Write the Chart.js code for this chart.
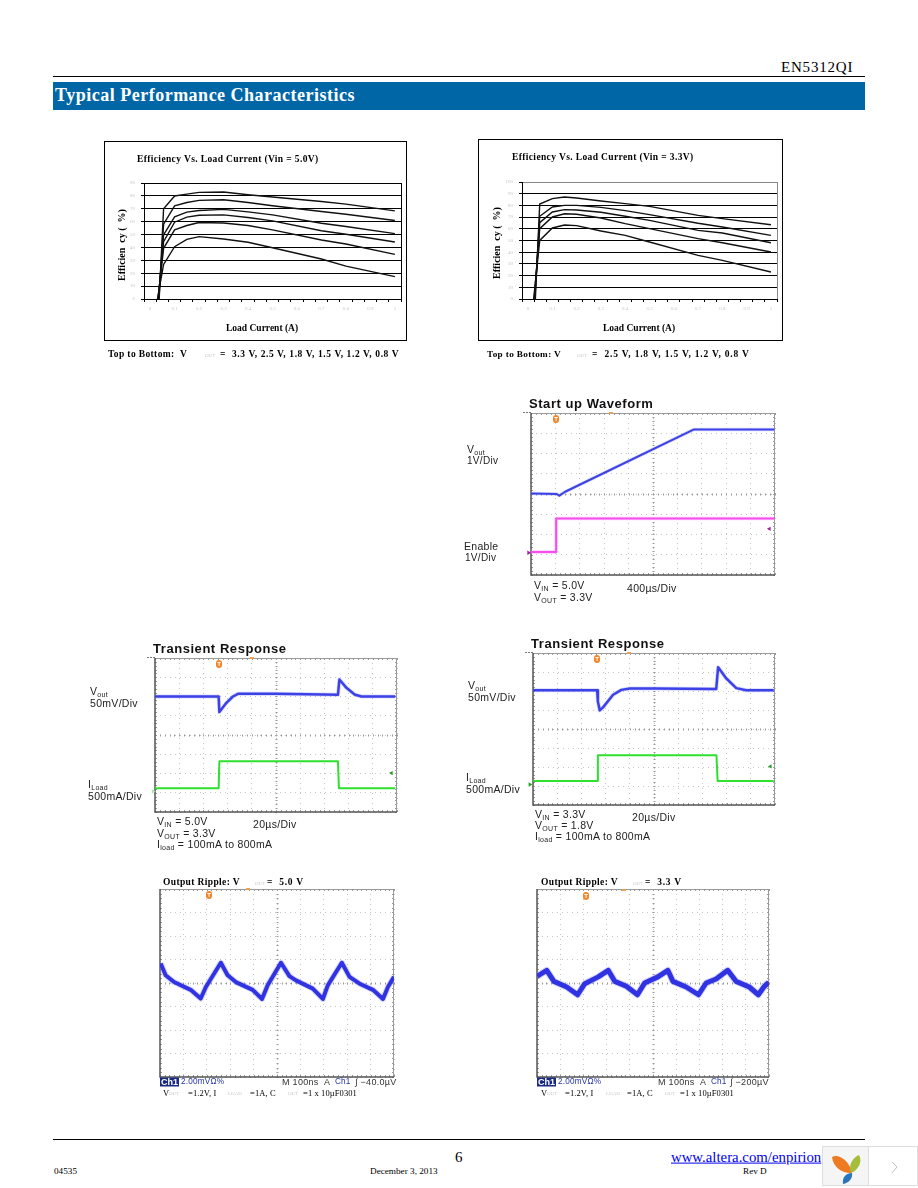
<!DOCTYPE html>
<html lang="en">
<head>
<meta charset="UTF-8" />
<title>EN5312QI Typical Performance Characteristics</title>
<script src="https://cdn.jsdelivr.net/npm/chart.js"></script>
<style>
  html, body { margin: 0; padding: 0; background: #fff; }
  body { position: relative; width: 918px; height: 1188px; overflow: hidden; font-family: "Liberation Serif", serif; color: #000; }
  canvas { position: absolute; }
  .t { position: absolute; white-space: nowrap; line-height: 1; transform: translateY(-50%); }
  .rule { position: absolute; left: 53px; width: 812px; height: 1px; background: #000; }
  .banner { position: absolute; left: 53px; top: 82px; width: 812px; height: 28px; background: #0066a6; }
  .eff { font-weight: bold; font-size: 9.5px; letter-spacing: .37px; }
  .ax { font-weight: bold; font-size: 9.5px; }
  .faint { color: #c9c9c9; font-size: 5px; font-weight: normal; letter-spacing: 0; }
  .s { font-family: "Liberation Sans", sans-serif; font-size: 10.5px; letter-spacing: .3px; color: #222; filter: blur(.3px); }
  .s sub { font-size: 7px; vertical-align: -2px; line-height: 0; }
  .h { font-family: "Liberation Sans", sans-serif; font-weight: bold; font-size: 13px; letter-spacing: .55px; color: #111; filter: blur(.25px); }
  .trig { position: absolute; width: 6px; height: 8px; margin-left: -3px; margin-top: -4px; border-radius: 3px; background: #f0852a; color: #fff; font: bold 6px/8px "Liberation Sans", sans-serif; text-align: center; }
  .stub { position: absolute; width: 4px; height: 2px; background: #f0a050; }
  .st { font-family: "Liberation Sans", sans-serif; font-size: 9px; color: #333; letter-spacing: .3px; filter: blur(.2px); }
  .st.b { color: #2233aa; font-size: 8.2px; letter-spacing: .2px; }
  .cap { font-size: 8.5px; letter-spacing: .1px; }
  .foot { font-size: 9.2px; }
</style>
</head>
<body>

<div class="t" style="left:781px;top:67px;font-size:15px;letter-spacing:.8px">EN5312QI</div>
<div class="rule" style="top:76px"></div>
<div class="banner"></div>
<div class="t" style="left:55px;top:95px;font-size:18px;font-weight:bold;color:#fff;letter-spacing:.5px">Typical Performance Characteristics</div>

<!-- efficiency plots -->
<canvas id="eff50"></canvas>
<canvas id="eff33"></canvas>
<div class="t eff" style="left:137px;top:160px">Efficiency Vs. Load Current (Vin = 5.0V)</div>
<div class="t eff" style="left:512px;top:158px">Efficiency Vs. Load Current (Vin = 3.3V)</div>
<div class="t ax" style="left:122px;top:245px;font-size:10px;transform:translate(-50%,-50%) rotate(-90deg)">Efficien&nbsp; cy (&nbsp; %)</div>
<div class="t ax" style="left:497px;top:243px;font-size:10px;transform:translate(-50%,-50%) rotate(-90deg)">Efficien&nbsp; cy (&nbsp; %)</div>
<div class="t ax" style="left:226px;top:329px">Load Current (A)</div>
<div class="t ax" style="left:603px;top:329px">Load Current (A)</div>
<div class="t eff" style="left:108px;top:355px">Top to Bottom:&nbsp; V</div>
<div class="t faint" style="left:205px;top:355px">OUT</div>
<div class="t eff" style="left:220px;top:355px;letter-spacing:.6px">=&nbsp; 3.3 V, 2.5 V, 1.8 V, 1.5 V, 1.2 V, 0.8 V</div>
<div class="t eff" style="left:487px;top:355px;font-size:9.2px">Top to Bottom: V</div>
<div class="t faint" style="left:577px;top:355px">OUT</div>
<div class="t eff" style="left:592px;top:355px;letter-spacing:.8px">=&nbsp; 2.5 V, 1.8 V, 1.5 V, 1.2 V, 0.8 V</div>

<!-- start up -->
<canvas id="startup"></canvas>
<div class="t h" style="left:529px;top:403px">Start up Waveform</div>
<div class="t s" style="left:467px;top:449px">V<sub>out</sub></div>
<div class="t s" style="left:467px;top:461px;font-size:10px">1V/Div</div>
<div class="t s" style="left:464px;top:546px">Enable</div>
<div class="t s" style="left:465px;top:558px;font-size:10px">1V/Div</div>
<div class="t s" style="left:534px;top:585px">V<sub>IN</sub> = 5.0V</div>
<div class="t s" style="left:534px;top:597px">V<sub>OUT</sub> = 3.3V</div>
<div class="t s" style="left:627px;top:588px">400&micro;s/Div</div>
<div class="trig" style="left:556px;top:419px">T</div>
<div class="stub" style="left:609px;top:412px"></div>

<!-- transient left -->
<canvas id="transL"></canvas>
<div class="t h" style="left:153px;top:648px">Transient Response</div>
<div class="t s" style="left:90px;top:691px">V<sub>out</sub></div>
<div class="t s" style="left:90px;top:703px">50mV/Div</div>
<div class="t s" style="left:88px;top:784px">I<sub>Load</sub></div>
<div class="t s" style="left:88px;top:796px">500mA/Div</div>
<div class="t s" style="left:157px;top:821px">V<sub>IN</sub> = 5.0V</div>
<div class="t s" style="left:157px;top:833px">V<sub>OUT</sub> = 3.3V</div>
<div class="t s" style="left:157px;top:844px">I<sub>load</sub> = 100mA to 800mA</div>
<div class="t s" style="left:253px;top:824px">20&micro;s/Div</div>
<div class="trig" style="left:219px;top:664px">T</div>
<div class="stub" style="left:250px;top:657px"></div>

<!-- transient right -->
<canvas id="transR"></canvas>
<div class="t h" style="left:531px;top:643px">Transient Response</div>
<div class="t s" style="left:468px;top:685px">V<sub>out</sub></div>
<div class="t s" style="left:468px;top:697px">50mV/Div</div>
<div class="t s" style="left:466px;top:777px">I<sub>Load</sub></div>
<div class="t s" style="left:466px;top:789px">500mA/Div</div>
<div class="t s" style="left:535px;top:814px">V<sub>IN</sub> = 3.3V</div>
<div class="t s" style="left:535px;top:825px">V<sub>OUT</sub> = 1.8V</div>
<div class="t s" style="left:535px;top:836px">I<sub>load</sub> = 100mA to 800mA</div>
<div class="t s" style="left:632px;top:817px">20&micro;s/Div</div>
<div class="trig" style="left:597px;top:659px">T</div>
<div class="stub" style="left:627px;top:652px"></div>

<!-- output ripple left -->
<canvas id="rippleL"></canvas>
<div class="t eff" style="left:163px;top:883px">Output Ripple: V</div>
<div class="t faint" style="left:255px;top:883px">OUT</div>
<div class="t eff" style="left:267px;top:883px;letter-spacing:.7px">=&nbsp; 5.0 V</div>
<div class="trig" style="left:209px;top:895px">T</div>
<div class="stub" style="left:246px;top:888px"></div>
<div class="t" style="left:160px;top:1082px;background:#1a2a80;color:#fff;font:bold 9px/9px 'Liberation Sans',sans-serif;padding:0 1px">Ch1</div>
<div class="t st b" style="left:181px;top:1082px">2.00mV&Omega;%</div>
<div class="t st" style="left:282px;top:1082px">M 100ns</div>
<div class="t st" style="left:324px;top:1082px">A</div>
<div class="t st b" style="left:335px;top:1082px">Ch1</div>
<div class="t st" style="left:355px;top:1082px">&int; &minus;40.0&micro;V</div>
<div class="t cap" style="left:163px;top:1093px">V</div>
<div class="t faint" style="left:169px;top:1093px">OUT</div>
<div class="t cap" style="left:188px;top:1093px">=1.2V, I</div>
<div class="t faint" style="left:228px;top:1093px">LOAD</div>
<div class="t cap" style="left:250px;top:1093px">=1A, C</div>
<div class="t faint" style="left:288px;top:1093px">OUT</div>
<div class="t cap" style="left:303px;top:1093px">=1 x 10&micro;F0301</div>

<!-- output ripple right -->
<canvas id="rippleR"></canvas>
<div class="t eff" style="left:541px;top:883px">Output Ripple: V</div>
<div class="t faint" style="left:633px;top:883px">OUT</div>
<div class="t eff" style="left:645px;top:883px;letter-spacing:.7px">=&nbsp; 3.3 V</div>
<div class="trig" style="left:586px;top:896px">T</div>
<div class="stub" style="left:622px;top:889px"></div>
<div class="t" style="left:537px;top:1082px;background:#1a2a80;color:#fff;font:bold 9px/9px 'Liberation Sans',sans-serif;padding:0 1px">Ch1</div>
<div class="t st b" style="left:558px;top:1082px">2.00mV&Omega;%</div>
<div class="t st" style="left:658px;top:1082px">M 100ns</div>
<div class="t st" style="left:700px;top:1082px">A</div>
<div class="t st b" style="left:711px;top:1082px">Ch1</div>
<div class="t st" style="left:730px;top:1082px">&int; &minus;200&micro;V</div>
<div class="t cap" style="left:541px;top:1093px">V</div>
<div class="t faint" style="left:547px;top:1093px">OUT</div>
<div class="t cap" style="left:565px;top:1093px">=1.2V, I</div>
<div class="t faint" style="left:606px;top:1093px">LOAD</div>
<div class="t cap" style="left:627px;top:1093px">=1A, C</div>
<div class="t faint" style="left:665px;top:1093px">OUT</div>
<div class="t cap" style="left:680px;top:1093px">=1 x 10&micro;F0301</div>

<!-- footer -->
<div class="rule" style="top:1139px"></div>
<div class="t" style="left:455px;top:1157px;font-size:15px">6</div>
<div class="t" style="left:671px;top:1157px;width:151px;overflow:hidden;font-size:14.8px;color:#0000ee;text-decoration:underline">www.altera.com/enpirion</div>
<div class="t foot" style="left:54px;top:1172px">04535</div>
<div class="t foot" style="left:370px;top:1172px">December 3, 2013</div>
<div class="t foot" style="left:743px;top:1172px">Rev D</div>

<svg style="position:absolute;left:822px;top:1146px" width="96" height="40" viewBox="0 0 96 40">
  <rect x=".5" y=".5" width="95" height="39" fill="#fff" stroke="#ddd"/>
  <rect x="1" y="1" width="45" height="38" fill="#f5f5f5"/>
  <line x1="46.5" y1="0" x2="46.5" y2="40" stroke="#ddd"/>
  <path d="M10 11 C16 7 28 15 30 27 C22 28 11 22 10 11Z" fill="#ee7a22"/>
  <path d="M37 9 C41 16 36 24 29 27 C26 20 30 12 37 9Z" fill="#a4bd3a"/>
  <path d="M21 38 C20 31 24 27 30 27 C31 32 27 37 21 38Z" fill="#2a76bc"/>
  <path d="M70 16 L75 21 L70 27" fill="none" stroke="#c4c4c4"/>
</svg>

<script>
// efficiency vs load current, Vin = 5.0 V (values in %)
const loadCurrent = [0.055, 0.1, 0.15, 0.2, 0.3, 0.4, 0.5, 0.7, 0.8, 1.0];
const start50 = [0.037, 0.036, 0.034, 0.033, 0.032, 0.03];
const eff50_33 = [70, 79.9, 81.4, 82.7, 83, 80.9, 79.1, 75.7, 73.6, 68.4];
const eff50_25 = [58, 72.3, 74.9, 76.5, 77, 74.9, 72.3, 67.9, 65.8, 60.9];
const eff50_18 = [49.7, 63.7, 67.4, 68.7, 69.5, 67.6, 65.3, 58.8, 56.2, 50.7];
const eff50_15 = [44.5, 59.6, 63.5, 65, 65.3, 63.2, 60.6, 53, 50.2, 44.2];
const eff50_12 = [39.3, 53.6, 57, 59.3, 59, 57, 53.6, 45.8, 42.7, 34.6];
const eff50_08 = [26.8, 40.6, 46.3, 48.4, 46.6, 44, 39.8, 31, 25.5, 17.4];

// efficiency vs load current, Vin = 3.3 V
const loadCurrent33 = [0.048, 0.1, 0.15, 0.2, 0.3, 0.4, 0.5, 0.7, 0.8, 1.0];
const start33 = [0.03, 0.028, 0.027, 0.025, 0.023];
const eff33_25 = [81.2, 85.8, 87.2, 86.3, 83.8, 81.5, 79.2, 71.5, 68.7, 63.5];
const eff33_18 = [70.7, 78.6, 80, 80, 78.3, 75.5, 72.1, 64.7, 61.5, 54.4];
const eff33_15 = [65.2, 74.4, 76.4, 76.1, 74.1, 70.7, 67.2, 58.7, 56.4, 48.1];
const eff33_12 = [60.1, 70.1, 72.9, 72.4, 69.2, 64.4, 60.1, 51.6, 48.1, 40.2];
const eff33_08 = [50.1, 60.7, 63.2, 62.7, 58.1, 54.4, 48.7, 37.3, 33, 23.1];

// scope traces, in divisions from screen centre
const startT = [-5, -3.95, -3.84, -3.6, 1.66, 4.97];
const startVout = [0.03, 0, -0.08, 0.11, 3.18, 3.18];
const enableT = [-5, -3.97, -3.97, 4.97];
const enableV = [-2.87, -2.87, -1.21, -1.21];

const transLT = [-5, -2.37, -2.34, -2.05, -1.78, -1.57, 0.01, 2.56, 2.62, 2.91, 3.25, 3.53, 4.93];
const transLVout = [2, 2, 1.19, 1.67, 2, 2.14, 2.14, 2.09, 2.88, 2.45, 2.1, 2, 2];
const transLLoadT = [-5, -2.37, -2.34, 2.56, 2.6, 4.93];
const transLLoad = [-2.76, -2.76, -1.36, -1.36, -2.76, -2.76];

const transRT = [-4.99, -2.35, -2.32, -2.24, -2.1, -1.69, -1.35, -1, 0, 2.57, 2.65, 2.98, 3.4, 3.81, 4.95];
const transRVout = [2.04, 2.04, 1.45, 0.98, 1.15, 1.8, 2.06, 2.13, 2.13, 2.1, 3.25, 2.67, 2.15, 2.04, 2.04];
const transRLoadT = [-4.99, -2.35, -2.32, 2.58, 2.63, 4.95];
const transRLoad = [-2.74, -2.74, -1.38, -1.38, -2.74, -2.74];

const rippleLT = [-4.97, -4.76, -4.4, -3.69, -3.26, -3.04, -2.4, -2.11, -1.76, -1.04, -0.64, -0.4, 0.17, 0.53, 0.81, 1.53, 1.96, 2.17, 2.77, 3.1, 3.53, 4.1, 4.53, 4.74, 5];
const rippleLV = [0.83, 0.33, 0.04, -0.29, -0.66, -0.17, 0.86, 0.33, 0.04, -0.29, -0.68, -0.1, 0.86, 0.29, 0.11, -0.24, -0.68, -0.1, 0.86, 0.26, -0.03, -0.29, -0.68, -0.17, 0.26];

const rippleRT = [-4.99, -4.58, -4.27, -3.72, -3.25, -2.94, -2.36, -1.93, -1.65, -1.15, -0.67, -0.36, 0.21, 0.64, 0.86, 1.43, 1.96, 2.29, 2.72, 3.22, 3.58, 4.15, 4.54, 4.8, 4.99];
const rippleRV = [0.29, 0.54, 0.07, -0.17, -0.5, -0.03, 0.26, 0.54, 0.07, -0.14, -0.5, 0, 0.26, 0.54, 0.07, -0.17, -0.5, 0, 0.17, 0.54, 0.07, -0.17, -0.5, -0.14, 0.03];

const pairs = (xs, ys) => xs.map((x, i) => ({ x: x, y: ys[i] }));

function place(id, box) {
  const c = document.getElementById(id);
  c.width = box.r - box.l;
  c.height = box.b - box.t;
  c.style.left = box.l + 'px';
  c.style.top = box.t + 'px';
  return c;
}

// outer edge of the plot on the right, Excel style
const rightEdge = {
  id: 'rightEdge',
  afterDraw(chart, args, opts) {
    const a = chart.chartArea, ctx = chart.ctx;
    ctx.save();
    ctx.strokeStyle = opts.color;
    ctx.beginPath();
    ctx.moveTo(a.right + .5, a.top);
    ctx.lineTo(a.right + .5, a.bottom);
    ctx.stroke();
    ctx.restore();
  }
};

function effChart(id, box, plot, xs, starts, series, yMax, edge) {
  const c = place(id, box);
  c.style.outline = '1px solid #000';
  const xTicks = [];
  for (let k = 0; k <= 42; k++) xTicks.push({ value: -0.025 + k * 0.025 });
  new Chart(c, {
    type: 'line',
    data: {
      datasets: series.map((s, i) => ({
        // every curve climbs from the axis floor at its own start current
        data: [{ x: starts[i], y: 0 }].concat(pairs(xs, s)),
        borderColor: '#111',
        borderWidth: 1.4,
        pointRadius: 0,
        tension: 0
      }))
    },
    plugins: [rightEdge],
    options: {
      responsive: false,
      animation: false,
      parsing: false,
      layout: { padding: { top: plot.t - box.t, right: box.r - plot.r, left: 0, bottom: 0 } },
      plugins: { legend: { display: false }, tooltip: { enabled: false }, rightEdge: { color: edge } },
      scales: {
        x: {
          type: 'linear',
          min: -0.025,
          max: 1.025,
          afterBuildTicks: s => { s.ticks = xTicks.slice(); },
          afterFit: s => { s.height = box.b - plot.b; },
          border: { color: '#000', width: 1 },
          grid: {
            drawOnChartArea: false,
            tickLength: 3,
            tickColor: ctx => ctx.index % 2 === 0 ? '#000' : 'rgba(0,0,0,0)'
          },
          ticks: {
            autoSkip: false,
            maxRotation: 0,
            padding: 4,
            color: '#c6c6c6',
            font: { size: 5, family: 'Liberation Serif' },
            callback: (v, i) => i % 4 === 1 ? String(Math.round(v * 10) / 10) : ''
          }
        },
        y: {
          min: 0,
          max: yMax,
          afterFit: s => { s.width = plot.l - box.l; },
          border: { color: '#000', width: 1 },
          grid: {
            color: ctx => ctx.tick.value === yMax ? edge : '#000',
            tickColor: '#000',
            tickLength: 3,
            lineWidth: 1
          },
          ticks: {
            stepSize: 10,
            padding: 6,
            color: '#c6c6c6',
            font: { size: 5, family: 'Liberation Serif' }
          }
        }
      }
    }
  });
}

// frame, centre graticule marks and small tics of a scope screen
const scopeFrame = {
  id: 'scopeFrame',
  beforeDatasetsDraw(chart, args, opts) {
    const a = chart.chartArea, ctx = chart.ctx, sx = chart.scales.x, sy = chart.scales.y;
    ctx.save();
    ctx.strokeStyle = '#999';
    ctx.lineWidth = 1;
    const cx = Math.round(sx.getPixelForValue(0)) + .5, cy = Math.round(sy.getPixelForValue(0)) + .5;
    ctx.beginPath();
    for (let v = -5; v <= 5.001; v += 0.2) {
      const p = Math.round(sx.getPixelForValue(v)) + .5;
      ctx.moveTo(p, cy - 1); ctx.lineTo(p, cy + 1);
      ctx.moveTo(p, a.top); ctx.lineTo(p, a.top + 2);
      ctx.moveTo(p, a.bottom); ctx.lineTo(p, a.bottom - 2);
    }
    for (let v = -4; v <= 4.001; v += 0.2) {
      const p = Math.round(sy.getPixelForValue(v)) + .5;
      ctx.moveTo(cx - 1, p); ctx.lineTo(cx + 1, p);
      ctx.moveTo(a.left, p); ctx.lineTo(a.left + 2, p);
      ctx.moveTo(a.right, p); ctx.lineTo(a.right - 2, p);
    }
    ctx.stroke();
    ctx.strokeStyle = '#9a9a9a';
    ctx.beginPath();
    ctx.moveTo(a.left, a.top + .5); ctx.lineTo(a.right, a.top + .5);
    ctx.moveTo(a.right - .5, a.top); ctx.lineTo(a.right - .5, a.bottom);
    ctx.stroke();
    if (opts.stub) {
      ctx.setLineDash([2, 1]);
      ctx.strokeStyle = '#777';
      ctx.beginPath();
      ctx.moveTo(a.left - 8, a.top - .5); ctx.lineTo(a.left, a.top - .5);
      ctx.stroke();
      ctx.setLineDash([]);
    }
    ctx.strokeStyle = '#555';
    ctx.lineWidth = 1.5;
    ctx.beginPath();
    ctx.moveTo(a.left, a.top); ctx.lineTo(a.left, a.bottom); ctx.lineTo(a.right, a.bottom);
    ctx.stroke();
    ctx.restore();
  }
};

function trace(xs, ys, color, width) {
  return {
    data: pairs(xs, ys),
    borderColor: color,
    borderWidth: width,
    borderJoinStyle: 'round',
    pointRadius: 0,
    tension: 0
  };
}

function mark(xs, ys, color, rotation) {
  return {
    data: pairs(xs, ys),
    showLine: false,
    pointStyle: 'triangle',
    pointRadius: 2.5,
    pointRotation: rotation,
    pointBackgroundColor: color,
    pointBorderWidth: 0,
    clip: false
  };
}

function scopeChart(id, plot, datasets, stub) {
  const box = { l: plot.l - 10, t: plot.t - 5, r: plot.r + 5, b: plot.b + 4 };
  const c = place(id, box);
  const axis = (lo, hi, fit) => ({
    type: 'linear',
    min: lo,
    max: hi,
    afterFit: fit,
    border: { display: false, dash: [1, 4] },
    grid: { color: '#c4c4c4', lineWidth: 1, drawTicks: false },
    ticks: { display: false, stepSize: 1 }
  });
  new Chart(c, {
    type: 'line',
    data: { datasets: datasets },
    plugins: [scopeFrame],
    options: {
      responsive: false,
      animation: false,
      parsing: false,
      layout: { padding: { top: plot.t - box.t, right: box.r - plot.r, left: 0, bottom: 0 } },
      plugins: { legend: { display: false }, tooltip: { enabled: false }, scopeFrame: { stub: stub } },
      scales: {
        x: axis(-5, 5, s => { s.height = box.b - plot.b; }),
        y: axis(-4, 4, s => { s.width = plot.l - box.l; })
      }
    }
  });
  c.style.filter = 'blur(.3px)';
}

const BLUE = '#2529de', HALO = 'rgba(120,125,250,.3)', PINK = '#fb30ee', GREEN = '#2fe02f', DEEP = '#1414d8';

effChart('eff50', { l: 105, t: 142, r: 406, b: 340 }, { l: 144, t: 183, r: 401, b: 299 },
  loadCurrent, start50, [eff50_33, eff50_25, eff50_18, eff50_15, eff50_12, eff50_08], 90, '#000');
effChart('eff33', { l: 479, t: 140, r: 782, b: 340 }, { l: 522, t: 182, r: 777, b: 299 },
  loadCurrent33, start33, [eff33_25, eff33_18, eff33_15, eff33_12, eff33_08], 100, '#888');

scopeChart('startup', { l: 531, t: 413, r: 775, b: 575 }, [
  trace(startT, startVout, HALO, 3.5), trace(startT, startVout, BLUE, 2),
  trace(enableT, enableV, 'rgba(250,130,240,.35)', 3.5), trace(enableT, enableV, PINK, 2),
  mark([4.77], [-1.72], '#a0209a', -90), mark([-5.1], [-2.9], '#a0209a', 90)
], true);
scopeChart('transL', { l: 155, t: 658, r: 397, b: 812 }, [
  trace(transLT, transLVout, HALO, 4), trace(transLT, transLVout, BLUE, 2.5),
  trace(transLLoadT, transLLoad, GREEN, 2),
  mark([4.77], [-1.98], '#22a022', -90), mark([-5.08], [-2.93], '#a8e8a8', 90)
], true);
scopeChart('transR', { l: 533, t: 653, r: 775, b: 805 }, [
  trace(transRT, transRVout, HALO, 4), trace(transRT, transRVout, BLUE, 2.5),
  trace(transRLoadT, transRLoad, GREEN, 2),
  mark([4.81], [-1.97], '#22a022', -90), mark([-5.13], [-2.92], '#22a022', 90)
], true);
scopeChart('rippleL', { l: 160, t: 889, r: 394, b: 1077 }, [
  trace(rippleLT, rippleLV, HALO, 6), trace(rippleLT, rippleLV, DEEP, 4)
], false);
scopeChart('rippleR', { l: 537, t: 889, r: 769, b: 1077 }, [
  trace(rippleRT, rippleRV, HALO, 7), trace(rippleRT, rippleRV, DEEP, 5)
], false);
</script>
</body>
</html>
